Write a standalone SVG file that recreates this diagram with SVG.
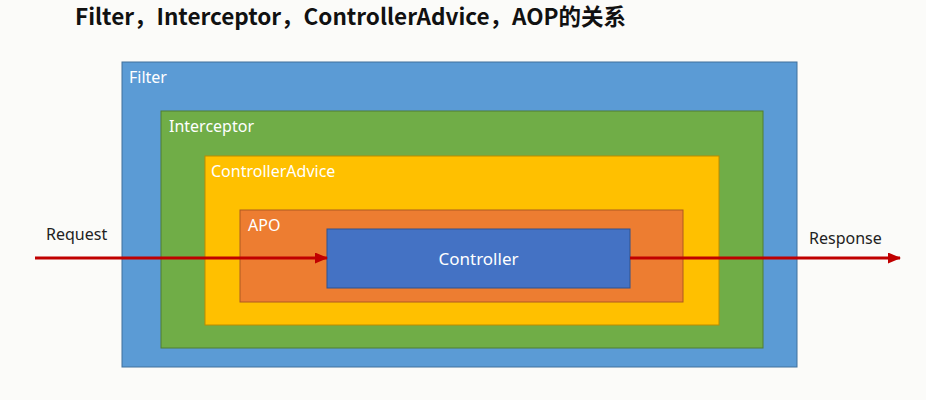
<svg xmlns="http://www.w3.org/2000/svg" width="926" height="400" viewBox="0 0 926 400">
<defs>
<style>
.lbl{font-family:"Noto Sans","Noto Sans CJK SC",sans-serif;font-size:16px;fill:#ffffff}
.ext{font-family:"Noto Sans","Noto Sans CJK SC",sans-serif;font-size:16px;fill:#222222}
.conn{stroke:#C00000;stroke-width:3;fill:none}
</style>
<marker id="ah" markerWidth="13" markerHeight="11" refX="12" refY="5.5" orient="auto" markerUnits="userSpaceOnUse">
<path d="M0,0 L13,5.5 L0,11 Z" fill="#C00000"/>
</marker>
</defs>
<rect width="926" height="400" fill="#FBFBF9"/>
<text x="75" y="25" font-family="Noto Sans CJK SC,Noto Sans,sans-serif" font-weight="bold" font-size="22.5" fill="#111111">Filter，Interceptor，ControllerAdvice，AOP的关系</text>
<g id="filter">
<rect x="122" y="62" width="675" height="305" fill="#5B9BD5" stroke="#41719C" stroke-width="1"/>
<text class="lbl" x="129" y="83">Filter</text>
</g>
<g id="interceptor">
<rect x="161" y="111" width="602" height="237" fill="#70AD47" stroke="#507E32" stroke-width="1"/>
<text class="lbl" x="169" y="132">Interceptor</text>
</g>
<g id="controlleradvice">
<rect x="205" y="156" width="514" height="169" fill="#FFC000" stroke="#BC8C00" stroke-width="1"/>
<text class="lbl" x="211" y="177">ControllerAdvice</text>
</g>
<g id="apo">
<rect x="240" y="210" width="443" height="92" fill="#ED7D31" stroke="#AE5A21" stroke-width="1"/>
<text class="lbl" x="248" y="231">APO</text>
</g>
<g id="controller">
<rect x="327" y="229" width="303" height="59" fill="#4472C4" stroke="#2F528F" stroke-width="1"/>
<text class="lbl" x="478.5" y="265" text-anchor="middle" style="font-size:17px">Controller</text>
</g>
<g id="connectors">
<line class="conn" x1="35" y1="258" x2="327" y2="258" marker-end="url(#ah)"/>
<line class="conn" x1="630" y1="258" x2="900" y2="258" marker-end="url(#ah)"/>
</g>
<text class="ext" x="46" y="240">Request</text>
<text class="ext" x="809" y="244">Response</text>
</svg>
